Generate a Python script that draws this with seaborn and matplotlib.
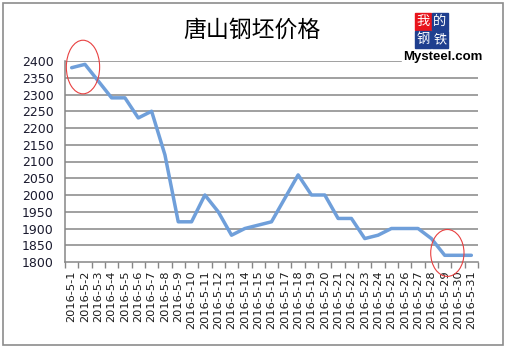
import numpy as np
import pandas as pd
import matplotlib
matplotlib.use("Agg")
import matplotlib.pyplot as plt
import seaborn as sns
from matplotlib.patches import Ellipse, Rectangle

# --- data ---
dates = [f"2016-5-{d}" for d in range(1, 32)]
prices = [2380, 2390, 2340, 2290, 2290, 2230, 2250, 2120, 1920, 1920,
          2000, 1950, 1880, 1900, 1910, 1920, 1990, 2060, 2000, 2000,
          1930, 1930, 1870, 1880, 1900, 1900, 1900, 1870, 1820, 1820, 1820]
y_ticks = list(range(1800, 2401, 50))
title = "唐山钢坯价格"
logo_chars = ["我", "的", "钢", "铁"]

LINE_COLOR = "#6F9FDA"
GRID_COLOR = "#868686"

sns.set_theme(style="white")
plt.rcParams['font.family'] = ['DejaVu Sans', 'Noto Sans CJK SC']

df = pd.DataFrame({"idx": np.arange(len(dates)), "price": prices})

fig = plt.figure(figsize=(5.08, 3.51), dpi=100)
ax = fig.add_axes([65 / 508, 1 - 262 / 351, (478 - 65) / 508, (262 - 61) / 351])

sns.lineplot(data=df, x="idx", y="price", color=LINE_COLOR, linewidth=2.5, ax=ax)

ax.set_xlim(-0.5, len(dates) - 0.5)
ax.set_ylim(1800, 2400)
ax.set_yticks(y_ticks)
ax.set_yticklabels([str(v) for v in y_ticks], fontsize=9, color="#1a1a2e")
ax.set_xticks(np.arange(len(dates)))
ax.set_xticklabels(dates, rotation=90, fontsize=8.2, color="#1a1a1a")
ax.tick_params(axis="x", length=0, pad=6)
ax.tick_params(axis="y", length=0, pad=8)
# tick marks between categories
ax.set_xticks(np.arange(len(dates) + 1) - 0.5, minor=True)
ax.tick_params(axis="x", which="minor", length=4, color=GRID_COLOR, width=1, bottom=True)
ax.set_xlabel("")
ax.set_ylabel("")

for v in y_ticks[1:]:
    ax.axhline(v, color=GRID_COLOR, linewidth=1.1, zorder=0)
for s in ["top", "right"]:
    ax.spines[s].set_visible(False)
for s in ["left", "bottom"]:
    ax.spines[s].set_color(GRID_COLOR)
    ax.spines[s].set_linewidth(1.1)

# red highlight ellipses
ax.add_patch(Ellipse((0.85, 2382), 2.5, 160, fill=False, edgecolor="#E84040",
                     linewidth=0.8, clip_on=False, zorder=5))
ax.add_patch(Ellipse((28.2, 1827), 2.5, 140, fill=False, edgecolor="#E84040",
                     linewidth=0.8, clip_on=False, zorder=5))

# title
fig.text(252 / 508, 1 - 30 / 351, title, ha="center", va="center",
         fontsize=16.5, family=['Noto Sans CJK SC'], color="black")

# chart frame
fig.patches.append(Rectangle((3 / 508, 1 - 345 / 351), 500 / 508, 342 / 351,
                             transform=fig.transFigure, fill=False,
                             edgecolor="#8c8c8c", linewidth=1.2))

# logo
cols = ["#E8141C", "#1F3F8F", "#1F3F8F", "#1F3F8F"]
pos = [(415, 13), (432, 13), (415, 31), (432, 31)]
for ch, c, (px, py) in zip(logo_chars, cols, pos):
    fig.patches.append(Rectangle((px / 508, 1 - (py + 17) / 351), 16 / 508, 17 / 351,
                                 transform=fig.transFigure, color=c, zorder=3))
    fig.text((px + 8) / 508, 1 - (py + 8.5) / 351, ch, ha="center", va="center",
             fontsize=9.5, color="white", family=['Noto Sans CJK SC'], zorder=4)
fig.patches.append(Rectangle((402 / 508, 1 - 64 / 351), 80 / 508, 15 / 351,
                             transform=fig.transFigure, color="white", zorder=2))
fig.text(403 / 508, 1 - 57 / 351, "Mysteel.com", ha="left", va="center",
         fontsize=9.5, color="black", fontweight="bold", family=['Liberation Sans'], zorder=4)

fig.savefig("out.png", dpi=100)
